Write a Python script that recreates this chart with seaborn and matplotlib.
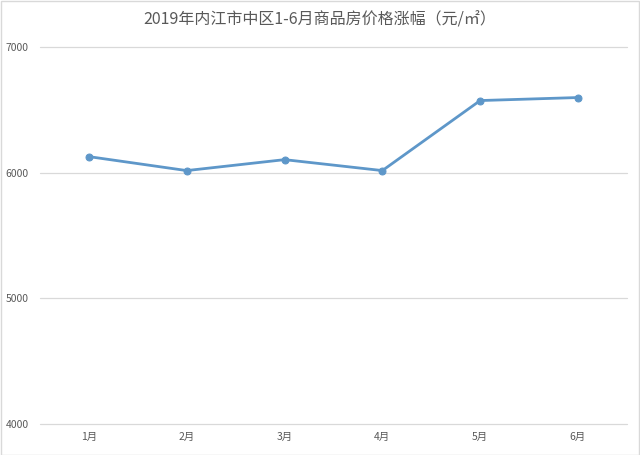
import matplotlib
matplotlib.use("Agg")
import matplotlib.pyplot as plt
import seaborn as sns
import pandas as pd

# 数据
months = ['1月', '2月', '3月', '4月', '5月', '6月']
prices = [6127, 6016, 6103, 6016, 6573, 6597]
y_ticks = [4000, 5000, 6000, 7000]
title = '2019年内江市中区1-6月商品房价格涨幅（元/㎡）'

sns.set_style('white')
plt.rcParams['font.family'] = ['Noto Sans CJK SC', 'DejaVu Sans']

df = pd.DataFrame({'month': months, 'price': prices})

fig = plt.figure(figsize=(6.4, 4.55), dpi=100)
ax = fig.add_axes([0.0625, 0.068, 0.917, 0.829])

sns.lineplot(data=df, x='month', y='price', ax=ax, color='#5e97c9',
             linewidth=2.0, marker='o', markersize=5,
             markeredgecolor='#5e97c9', sort=False)

ax.set_xlim(-0.5, len(months) - 0.5)
ax.set_ylim(y_ticks[0], y_ticks[-1])
ax.set_yticks(y_ticks)
ax.yaxis.grid(True, color='#d9d9d9', linewidth=0.9)
for gl in ax.get_ygridlines():
    gl.set_clip_on(False)
ax.set_axisbelow(True)
for s in ax.spines.values():
    s.set_visible(False)
ax.set_xlabel('')
ax.set_ylabel('')
ax.tick_params(axis='both', length=0, labelsize=7.5, labelcolor='#595959')
ax.tick_params(axis='y', pad=8)
ax.tick_params(axis='x', pad=6)

fig.suptitle(title, y=0.975, fontsize=11.5, color='#595959')

# 外框
fig.patches.append(plt.Rectangle((0.001, 0.001), 0.997, 0.997, transform=fig.transFigure,
                                 fill=False, edgecolor='#d9d9d9', linewidth=1))

fig.savefig('out.png', dpi=100)
